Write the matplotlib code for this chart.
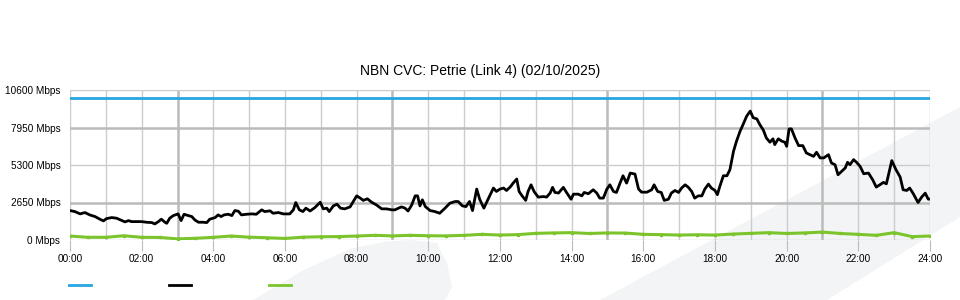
import matplotlib
matplotlib.use("Agg")
import matplotlib.pyplot as plt
from matplotlib.patches import Polygon

plt.rcParams['font.family'] = ['Liberation Sans', 'DejaVu Sans']

titulo = "NBN CVC: Petrie (Link 4) (02/10/2025)"

# capacidad del enlace (Mbps)
capacidad = 10000

# trafico de bajada: minuto del dia / Mbps
bajada_min = [
    0, 8, 17, 25, 33, 42, 50, 56, 61, 70, 78, 87, 92, 98, 103, 112, 120, 128, 137, 142,
    148, 153, 159, 162, 167, 173, 181, 186, 191, 198, 204, 209, 215, 223, 229, 234, 243, 248, 253, 258,
    265, 271, 276, 282, 287, 296, 304, 312, 321, 326, 335, 340, 349, 357,
    368, 374, 378, 384, 390, 395, 402, 410, 419, 424, 430, 434, 441, 447, 453, 460, 469, 474,
    480, 486, 491, 498, 505, 513, 522, 530, 539, 544, 550, 555, 561, 566, 572, 578, 582, 586,
    590, 595, 603, 611, 619, 628, 636, 645, 650, 657, 663, 669, 674, 681, 686, 693, 700, 709, 714,
    720, 726, 731, 737, 742, 748, 752, 757, 763, 767, 772, 777, 784, 793, 798, 804, 808, 812, 818,
    826, 832, 839, 843, 851, 857, 861, 868, 876, 882, 887, 893, 899, 904, 910, 915, 921, 926, 932,
    938, 946, 952, 957, 966, 974, 978, 984, 990, 995, 1002, 1007, 1013, 1019, 1024, 1030, 1035,
    1041, 1046, 1052, 1058, 1063, 1069, 1074,
    1080, 1084, 1088, 1094, 1100, 1105, 1111, 1116, 1122, 1127, 1133, 1139, 1144, 1150, 1155, 1161,
    1166, 1172, 1177, 1180, 1186, 1192, 1197, 1200, 1204, 1208, 1214, 1220, 1227, 1233, 1239, 1245,
    1250, 1256, 1262, 1270, 1275, 1281, 1286, 1292, 1298, 1302, 1306, 1312, 1317, 1323, 1329, 1337,
    1344, 1350, 1356, 1362, 1367, 1376, 1383, 1390, 1395, 1401, 1406, 1412, 1420, 1426, 1432, 1437, 1440,
]
bajada_mbps = [
    2080, 2010, 1845, 1940, 1775, 1655, 1470, 1350, 1510, 1585, 1540, 1370, 1280, 1370, 1300, 1300, 1300, 1255, 1230, 1135,
    1300, 1470, 1255, 1180, 1540, 1725, 1845, 1370, 1820, 1725, 1655, 1420, 1255, 1255, 1230, 1470, 1585, 1775, 1655, 1775,
    1820, 1725, 2080, 2030, 1775, 1820, 1845, 1820, 2130, 2010, 2060, 1890, 1940, 1845,
    1845, 2130, 2650, 2130, 2010, 2250, 2050, 2290, 2670, 2200, 2250, 2010, 2410, 2530, 2250, 2200, 2340, 2700,
    3120, 2960, 2800, 2910, 2670, 2480, 2200, 2200, 2130, 2130, 2250, 2340, 2250, 2050, 2460, 3120, 3120, 2410,
    2840, 2360, 2080, 2010, 1890, 2250, 2600, 2720, 2720, 2410, 2360, 2720, 2080, 3600, 2880, 2250, 2880, 3670, 3430,
    3600, 3670, 3500, 3740, 4020, 4310, 3430, 3120, 2800, 3430, 3900, 3430, 3030, 3070, 3030, 3320, 3720, 3360, 3320,
    3720, 3320, 2880, 3240, 3240, 3120, 3360, 3270, 3550, 3320, 2960, 2960, 3600, 3900, 3430, 3360, 4020, 4540, 4020,
    4730, 4660, 3600, 3380, 3380, 3550, 3900, 3430, 3360, 2800, 2880, 3320, 3500, 3360, 3670, 3900, 3740,
    3430, 2960, 3120, 3120, 3600, 3950, 3670,
    3500, 3200, 3780, 4540, 4540, 4970, 6270, 6980, 7690, 8160, 8750, 9110, 8640, 8560, 8160, 7760,
    7210, 6910, 7150, 6740, 7150, 6980, 6910, 6620, 7850, 7850, 7210, 6670, 6670, 6150, 6030, 5910,
    6200, 5800, 5800, 6030, 5440, 5320, 4610, 4850, 5090, 5490, 5320, 5680, 5490, 5200, 4680, 4730,
    4260, 3740, 3900, 4070, 3970, 5610, 4970, 4450, 3550, 3500, 3670, 3270, 2650, 3030, 3310, 2890, 2890,
]

# trafico de subida cada 30 minutos (Mbps)
subida_mbps = [
    280, 190, 190, 300, 190, 180, 80, 120, 190, 280, 200, 160, 110, 200, 230, 240, 280, 330, 290, 330,
    300, 290, 330, 400, 350, 380, 470, 500, 520, 460, 500, 490, 400, 380, 350, 370, 350, 420, 470, 520,
    460, 500, 560, 460, 400, 330, 520, 240, 280,
]
subida_min = [i * 30 for i in range(len(subida_mbps))]

etiquetas_y = [0, 2650, 5300, 7950, 10600]
etiquetas_x = [f"{h:02d}:00" for h in range(0, 25, 2)]

fig = plt.figure(figsize=(9.6, 3.0), dpi=100)

# marca de agua gris del fondo (coordenadas en pixeles de la imagen)
gris = "#f3f4f6"
forma1 = [(253, 300), (270, 290), (300, 272), (330, 258), (350, 249), (383, 242), (410, 240),
          (437, 243), (447, 263), (452, 287), (445, 300)]
forma2 = [(600, 300), (960, 107), (960, 217), (827, 300)]
for forma in (forma1, forma2):
    pts = [(px / 960, 1 - py / 300) for px, py in forma]
    fig.add_artist(Polygon(pts, closed=True, transform=fig.transFigure,
                           facecolor=gris, edgecolor="none", zorder=-5))

ax = fig.add_axes([70 / 960, 0.2, 860 / 960, 0.5])
ax.set_facecolor("none")

horas_b = [m / 60 for m in bajada_min]
horas_s = [m / 60 for m in subida_min]

ax.plot([0, 24], [capacidad, capacidad], color="#26a6e0", lw=2, zorder=3)
ax.plot(horas_b, bajada_mbps, color="black", lw=2, zorder=4)
ax.plot(horas_s, subida_mbps, color="#7cc42c", lw=2.2, marker="s", ms=1.5, zorder=4)

ax.set_xlim(0, 24)
ax.set_ylim(0, 10600)

# rejilla
for h in range(25):
    if h % 6 == 3:
        ax.axvline(h, color="#bbbbbb", lw=1.8, zorder=1)
    else:
        ax.axvline(h, color="#cccccc", lw=1, zorder=1)
for v in etiquetas_y:
    if v in (2650, 7950):
        ax.axhline(v, color="#bbbbbb", lw=1.8, zorder=1)
    else:
        ax.axhline(v, color="#cccccc", lw=1, zorder=1)

for s in ax.spines.values():
    s.set_visible(False)

ax.set_yticks(etiquetas_y)
ax.set_yticklabels([f"{v} Mbps" for v in etiquetas_y], fontsize=7.2)
ax.tick_params(axis="y", length=0, pad=7)
ax.set_xticks(range(0, 25, 2))
ax.set_xticklabels(etiquetas_x, fontsize=7.2)
ax.tick_params(axis="x", length=8, color="#bbbbbb", pad=2)

fig.text(480 / 960, 1 - 71 / 300, titulo, ha="center", va="center", fontsize=10)

# leyenda sin texto, solo lineas
for x0, c in ((69, "#26a6e0"), (169, "black"), (269, "#7cc42c")):
    fig.add_artist(plt.Line2D([x0 / 960, (x0 + 22) / 960], [1 - 285 / 300, 1 - 285 / 300],
                              transform=fig.transFigure, color=c, lw=2))

plt.savefig("out.png", dpi=100)
plt.close()
